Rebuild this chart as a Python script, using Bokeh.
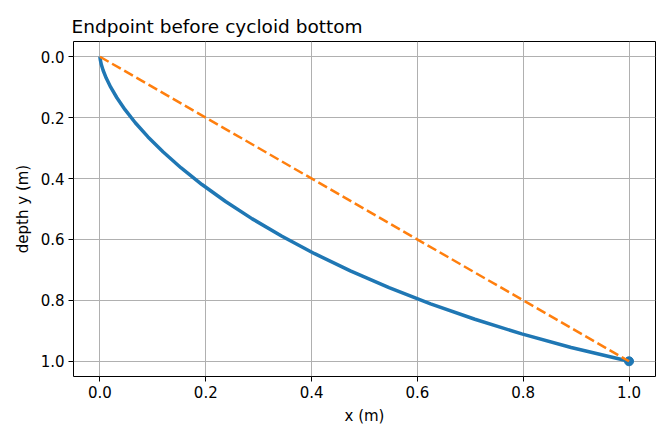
from bokeh.embed import file_html
from bokeh.models import FixedTicker, NumeralTickFormatter, Range1d
from bokeh.plotting import figure
from bokeh.resources import INLINE

# cycloid path: x (m), depth y (m)
curve_x = [0.0, 0.0001, 0.0008, 0.0026, 0.0061, 0.0118, 0.0203, 0.0320,
           0.0474, 0.0668, 0.0908, 0.1196, 0.1535, 0.1928, 0.2375, 0.2879,
           0.3440, 0.4058, 0.4733, 0.5464, 0.6249, 0.7086, 0.7972, 0.8905,
           1.0]
curve_y = [0.0, 0.0029, 0.0114, 0.0256, 0.0452, 0.0701, 0.1001, 0.1347,
           0.1738, 0.2168, 0.2634, 0.3130, 0.3653, 0.4197, 0.4755, 0.5324,
           0.5896, 0.6467, 0.7031, 0.7581, 0.8113, 0.8621, 0.9101, 0.9546,
           1.0]

# straight line from start to endpoint
line_x = [0.0, 1.0]
line_y = [0.0, 1.0]

end_x = [1.0]
end_y = [1.0]

ticks = [0.0, 0.2, 0.4, 0.6, 0.8, 1.0]

p = figure(width=663, height=432,
           x_range=Range1d(-0.05, 1.05),
           y_range=Range1d(1.05, -0.05),
           title="Endpoint before cycloid bottom",
           x_axis_label="x (m)",
           y_axis_label="depth y (m)",
           output_backend="svg",
           toolbar_location=None,
           min_border_left=73,
           min_border_right=8,
           min_border_top=41,
           min_border_bottom=56)

p.title.text_font = "DejaVu Sans"
p.title.text_font_size = "18.5px"
p.title.text_font_style = "normal"
p.title.text_color = "black"
p.title.offset = -2

p.outline_line_color = "black"
p.outline_line_width = 1

for axis in (p.xaxis, p.yaxis):
    axis.ticker = FixedTicker(ticks=ticks)
    axis.formatter = NumeralTickFormatter(format="0.0")
    axis.major_label_text_font = "DejaVu Sans"
    axis.major_label_text_font_size = "15px"
    axis.major_label_text_color = "black"
    axis.axis_label_text_font = "DejaVu Sans"
    axis.axis_label_text_font_size = "15px"
    axis.axis_label_text_font_style = "normal"
    axis.axis_label_text_color = "black"
    axis.axis_line_color = None
    axis.major_tick_line_color = "black"
    axis.major_tick_out = 5
    axis.major_tick_in = 0
    axis.minor_tick_line_color = None
    axis.axis_label_standoff = 6
    axis.major_label_standoff = 4

p.xgrid.ticker = FixedTicker(ticks=ticks)
p.ygrid.ticker = FixedTicker(ticks=ticks)
for grid in (p.xgrid, p.ygrid):
    grid.grid_line_color = "#b0b0b0"
    grid.grid_line_width = 1

p.line(curve_x, curve_y, line_color="#1f77b4", line_width=3.5)
p.scatter(end_x, end_y, size=9, fill_color="#1f77b4", line_color="#1f77b4")
p.line(line_x, line_y, line_color="#ff7f0e", line_width=2.5,
       line_dash="10 4")

open("out.html", "w").write(file_html(p, INLINE))
